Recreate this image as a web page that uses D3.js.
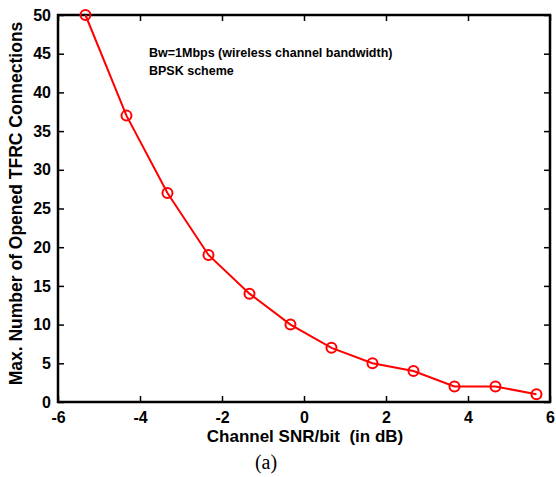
<!DOCTYPE html>
<html>
<head>
<meta charset="utf-8">
<script src="https://cdn.jsdelivr.net/npm/d3@7"></script>
<style>
  body { margin: 0; background: #fff; }
  svg text { font-family: "Liberation Sans", Arial, sans-serif; font-weight: 700; fill: #000; }
</style>
</head>
<body>
<div id="chart"></div>
<script>
// data
var snrValues = [-5.33, -4.33, -3.33, -2.33, -1.33, -0.33, 0.67, 1.67, 2.67, 3.67, 4.67, 5.67];
var connections = [50, 37, 27, 19, 14, 10, 7, 5, 4, 2, 2, 1];
var xTicks = [-6, -4, -2, 0, 2, 4, 6];
var yTicks = [0, 5, 10, 15, 20, 25, 30, 35, 40, 45, 50];

var svgWidth = 556;
var svgHeight = 477;
var margin = { top: 15, right: 6, left: 58, bottom: 75 };
var width = svgWidth - margin.left - margin.right;
var height = svgHeight - margin.top - margin.bottom;

var svg = d3.select("#chart").append("svg")
    .attr("width", svgWidth)
    .attr("height", svgHeight);

var chartGroup = svg.append("g")
    .attr("transform", `translate(${margin.left}, ${margin.top})`);

// scales
var xScale = d3.scaleLinear().domain([-6, 6]).range([0, width]);
var yScale = d3.scaleLinear().domain([0, 50]).range([height, 0]);

// plain hyphen for negatives, like the original
var fmt = d => String(d);

// axes, ticks pointing inward on all four sides
function styleAxis(g) {
  g.attr("font-family", null).attr("font-size", null);
  g.select(".domain").remove();
  g.selectAll(".tick line").attr("stroke", "#000").attr("stroke-width", 1.5);
  g.selectAll(".tick text")
    .style("font-size", "16px")
    .style("font-weight", "700");
}

chartGroup.append("g")
  .attr("transform", `translate(0, ${height})`)
  .call(d3.axisBottom(xScale).tickValues(xTicks).tickFormat(fmt).tickSizeInner(-6).tickPadding(10))
  .call(styleAxis);

chartGroup.append("g")
  .call(d3.axisTop(xScale).tickValues(xTicks).tickSizeInner(-6).tickFormat(""))
  .call(styleAxis);

chartGroup.append("g")
  .call(d3.axisLeft(yScale).tickValues(yTicks).tickFormat(fmt).tickSizeInner(-6).tickPadding(7))
  .call(styleAxis);

chartGroup.append("g")
  .attr("transform", `translate(${width}, 0)`)
  .call(d3.axisRight(yScale).tickValues(yTicks).tickSizeInner(-6).tickFormat(""))
  .call(styleAxis);

// box
chartGroup.append("rect")
  .attr("x", 0).attr("y", 0)
  .attr("width", width).attr("height", height)
  .attr("fill", "none")
  .attr("stroke", "#000")
  .attr("stroke-width", 2.5);

// line + markers
var pts = snrValues.map((x, i) => ({ x: x, y: connections[i] }));

chartGroup.append("path")
  .datum(pts)
  .attr("fill", "none")
  .attr("stroke", "#ff0000")
  .attr("stroke-width", 2)
  .attr("d", d3.line().x(d => xScale(d.x)).y(d => yScale(d.y)));

chartGroup.selectAll("circle")
  .data(pts)
  .enter()
  .append("circle")
  .attr("cx", d => xScale(d.x))
  .attr("cy", d => yScale(d.y))
  .attr("r", 5)
  .attr("fill", "none")
  .attr("stroke", "#ff0000")
  .attr("stroke-width", 2);

// annotation
chartGroup.append("text")
  .attr("x", 91).attr("y", 42)
  .style("font-size", "12.5px")
  .text("Bw=1Mbps (wireless channel bandwidth)");
chartGroup.append("text")
  .attr("x", 91).attr("y", 60)
  .style("font-size", "12.5px")
  .text("BPSK scheme");

// axis titles
chartGroup.append("text")
  .attr("transform", "rotate(-90)")
  .attr("x", -height / 2 + 5)
  .attr("y", -36)
  .attr("text-anchor", "middle")
  .style("font-size", "17.5px")
  .text("Max. Number of Opened TFRC Connections");

chartGroup.append("text")
  .attr("x", width / 2 + 1)
  .attr("y", height + 40)
  .attr("text-anchor", "middle")
  .style("font-size", "17px")
  .style("white-space", "pre")
  .text("Channel SNR/bit  (in dB)");

chartGroup.append("text")
  .attr("x", width / 2 - 38)
  .attr("y", height + 67)
  .attr("text-anchor", "middle")
  .style("font-family", "'Liberation Serif', 'Times New Roman', serif")
  .style("font-weight", "400")
  .style("font-size", "20px")
  .text("(a)");
</script>
</body>
</html>
